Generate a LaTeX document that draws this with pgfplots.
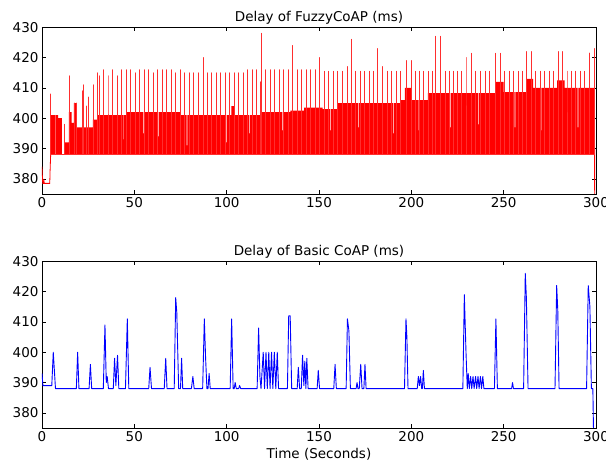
\documentclass[border=0pt]{standalone}
\usepackage{fontspec}
\setmainfont{DejaVu Sans}
\usepackage{pgfplots}
\pgfplotsset{compat=1.18}
\begin{document}
\begin{tikzpicture}
\useasboundingbox (0,0) rectangle (606pt,462pt);
\pgfplotsset{
  panel/.style={
    scale only axis, width=554pt, height=166.7pt,
    xmin=0, xmax=300, ymin=375, ymax=430,
    xtick={0,50,...,300}, ytick={380,390,...,430},
    minor tick num=0,
    tick align=inside, major tick length=4pt,
    /pgf/number format/assume math mode=true,
    tick label style={font=\fontsize{13.5}{16}\selectfont},
    title style={font=\fontsize{13.5}{16}\selectfont, at={(0.5,1)}, anchor=base, yshift=-0.5pt},
    axis line style={line width=0.8pt},
    every tick/.style={black, line width=0.6pt},
  }
}
\begin{axis}[panel, at={(42pt,434.7pt)}, anchor=north west,
  title={Delay of FuzzyCoAP (ms)}]
% dense band (upper edge of the filled red region), with its deeper gaps
\addplot[fill=red, draw=none] coordinates {
(4.7,388)(4.7,401)(7.4,401)(7.4,388)(7.7,388)(7.7,401)(8.7,401)(8.7,400)(10.8,400)(10.8,388)
(12.4,388)(12.4,392)(14.6,392)(14.6,402)(16.0,402)(16.0,398.5)(17.3,398.5)(17.3,405)(18.5,405)
(18.5,397)(27.6,397)(27.6,399.5)(29.8,399.5)(29.8,401)
(44.0,401)(44.0,393)(44.4,393)(44.4,401)
(46,401)(46,402)
(54.8,402)(54.8,395)(55.2,395)(55.2,402)
(63.0,402)(63.0,394)(63.4,394)(63.4,402)
(75,402)(75,401)
(78.3,401)(78.3,391)(78.7,391)(78.7,401)
(99.6,401)(99.6,392)(100.0,392)(100.0,401)
(102.5,401)(102.5,404)(104.5,404)(104.5,401)
(112.0,401)(112.0,395)(112.4,395)(112.4,401)
(118.5,401)(118.5,402)
(130.0,402)(130.0,396)(130.4,396)(130.4,402)
(134.5,402)(134.5,402.5)
(142,402.5)(142,403.5)(152,403.5)(152,403)
(156.0,403)(156.0,396)(156.4,396)(156.4,403)
(160,403)(160,405)
(171.0,405)(171.0,397)(171.4,397)(171.4,405)
(190.0,405)(190.0,395)(190.4,395)(190.4,405)
(194,405)(194,406)(196.5,406)
(196.5,410)(200.2,410)(200.2,406)
(204.0,406)(204.0,396)(204.4,396)(204.4,406)
(209,406)(209,408.3)
(221.0,408.3)(221.0,397)(221.4,397)(221.4,408.3)
(236.0,408.3)(236.0,398)(236.4,398)(236.4,408.3)
(245.6,408.3)(245.6,412)(250,412)
(250,408.6)
(256.0,408.6)(256.0,397)(256.4,397)(256.4,408.6)
(262.5,408.6)(262.5,413)(266,413)(266,410)
(270.0,410)(270.0,396)(270.4,396)(270.4,410)
(279,410)(279,412.5)(283,412.5)
(283,410)
(290.0,410)(290.0,397)(290.4,397)(290.4,410)
(299.2,410)(299.2,388)
};
% start and end of the series
\addplot[red, line width=0.8pt] coordinates {
(0,384)(0.2,381)(0.4,378.5)(0.8,378.5)(1.0,380)(1.2,378.5)(4.2,378.5)(4.4,383)(4.7,388)
};
\addplot[red, line width=0.8pt] coordinates {(299.2,410)(299.3,360)};
% spikes
\addplot[red!82!white, line width=0.9pt, line join=round] coordinates {
(4.8,388)(4.8,408)(4.8,388)(12.3,388)(12.3,398)(12.3,388)(14.6,388)(14.6,414)(14.6,388)
(17.4,388)(17.4,405)(17.4,388)(18.4,388)(18.4,405)(18.4,388)(21.7,388)(21.7,409)(21.7,388)
(22.6,388)(22.6,411)(22.6,388)(24.0,388)(24.0,404)(24.0,388)(25.2,388)(25.2,407)(25.2,388)
(27.6,388)(27.6,411)(27.6,388)(29.8,388)(29.8,415)(29.8,388)(31.1,388)(31.1,414)(31.1,388)
(33.3,388)(33.3,416)(33.3,388)(35.74,388)(35.74,414)(35.74,388)(38.18,388)(38.18,416)(38.18,388)
(40.62,388)(40.62,414)(40.62,388)(43.06,388)(43.06,416)(43.06,388)(45.5,388)(45.5,416)(45.5,388)
(47.94,388)(47.94,416)(47.94,388)(50.38,388)(50.38,415)(50.38,388)(52.82,388)(52.82,416)(52.82,388)
(55.26,388)(55.26,416)(55.26,388)(57.7,388)(57.7,416)(57.7,388)(60.14,388)(60.14,415)(60.14,388)
(62.58,388)(62.58,416)(62.58,388)(65.02,388)(65.02,416)(65.02,388)(67.46,388)(67.46,416)(67.46,388)
(69.9,388)(69.9,416)(69.9,388)(72.34,388)(72.34,415)(72.34,388)(74.78,388)(74.78,416)(74.78,388)
(77.22,388)(77.22,415)(77.22,388)(79.66,388)(79.66,415)(79.66,388)(82.1,388)(82.1,415)(82.1,388)
(84.54,388)(84.54,415)(84.54,388)(87.5,388)(87.5,420)(87.5,388)(89.42,388)(89.42,415)(89.42,388)
(91.86,388)(91.86,415)(91.86,388)(94.3,388)(94.3,415)(94.3,388)(96.74,388)(96.74,415)(96.74,388)
(99.18,388)(99.18,415)(99.18,388)(101.62,388)(101.62,415)(101.62,388)(104.06,388)(104.06,415)(104.06,388)
(106.5,388)(106.5,415)(106.5,388)(108.94,388)(108.94,415)(108.94,388)(111.38,388)(111.38,416)(111.38,388)
(113.82,388)(113.82,416)(113.82,388)(116.26,388)(116.26,416)(116.26,388)(118.3,388)(118.3,412)(118.3,388)
(118.8,388)(118.8,428)(118.8,388)(121.14,388)(121.14,416)(121.14,388)(123.58,388)(123.58,416)(123.58,388)
(126.02,388)(126.02,416)(126.02,388)(128.46,388)(128.46,416)(128.46,388)(130.9,388)(130.9,416)(130.9,388)
(133.34,388)(133.34,416)(133.34,388)(135.7,388)(135.7,424)(135.7,388)(138.22,388)(138.22,416)(138.22,388)
(140.66,388)(140.66,416)(140.66,388)(143.1,388)(143.1,416)(143.1,388)(145.54,388)(145.54,416)(145.54,388)
(147.98,388)(147.98,416)(147.98,388)(150.2,388)(150.2,420)(150.2,388)(152.86,388)(152.86,415.5)(152.86,388)
(155.3,388)(155.3,415.5)(155.3,388)(157.74,388)(157.74,415.5)(157.74,388)(160.18,388)(160.18,415.5)(160.18,388)
(162.62,388)(162.62,415.5)(162.62,388)(165.4,388)(165.4,417)(165.4,388)(167.5,388)(167.5,426)(167.5,388)
(169.94,388)(169.94,415.5)(169.94,388)(172.38,388)(172.38,415.5)(172.38,388)(174.82,388)(174.82,415.5)(174.82,388)
(177.26,388)(177.26,415.5)(177.26,388)(179.7,388)(179.7,415.5)(179.7,388)(181.9,388)(181.9,423)(181.9,388)
(184.3,388)(184.3,417)(184.3,388)(187.02,388)(187.02,415.5)(187.02,388)(189.46,388)(189.46,415.5)(189.46,388)
(191.9,388)(191.9,415.5)(191.9,388)(194.34,388)(194.34,415.5)(194.34,388)(197.1,388)(197.1,419)(197.1,388)
(199.8,388)(199.8,419)(199.8,388)(202.0,388)(202.0,415.5)(202.0,388)(204.4,388)(204.4,415.5)(204.4,388)
(206.8,388)(206.8,415.5)(206.8,388)(209.0,388)(209.0,415.5)(209.0,388)(211.2,388)(211.2,415.5)(211.2,388)
(213.3,388)(213.3,427)(213.3,388)(215.9,388)(215.9,427)(215.9,388)(218.3,388)(218.3,415.5)(218.3,388)
(220.6,388)(220.6,415.5)(220.6,388)(222.9,388)(222.9,415.5)(222.9,388)(225.0,388)(225.0,415.5)(225.0,388)
(227.3,388)(227.3,415.5)(227.3,388)(229.6,388)(229.6,420)(229.6,388)(232.3,388)(232.3,421.4)(232.3,388)
(234.8,388)(234.8,415.5)(234.8,388)(237.3,388)(237.3,415.5)(237.3,388)(239.9,388)(239.9,415.5)(239.9,388)
(242.4,388)(242.4,415.5)(242.4,388)(245.8,388)(245.8,421.4)(245.8,388)(248.0,388)(248.0,421.4)(248.0,388)
(250.5,388)(250.5,415.5)(250.5,388)(253.0,388)(253.0,415.5)(253.0,388)(255.4,388)(255.4,415.5)(255.4,388)
(257.8,388)(257.8,415.5)(257.8,388)(260.1,388)(260.1,415.5)(260.1,388)(262.4,388)(262.4,422)(262.4,388)
(264.9,388)(264.9,422)(264.9,388)(267.3,388)(267.3,415.5)(267.3,388)(269.8,388)(269.8,415.5)(269.8,388)
(272.2,388)(272.2,415.5)(272.2,388)(274.6,388)(274.6,415.5)(274.6,388)(277.0,388)(277.0,415.5)(277.0,388)
(279.5,388)(279.5,422)(279.5,388)(281.9,388)(281.9,422)(281.9,388)(284.3,388)(284.3,415.5)(284.3,388)
(286.7,388)(286.7,415.5)(286.7,388)(289.1,388)(289.1,415.5)(289.1,388)(291.5,388)(291.5,415.5)(291.5,388)
(293.9,388)(293.9,415.5)(293.9,388)(296.2,388)(296.2,421.5)(296.2,388)(298.9,388)(298.9,423)(298.9,388)
};
\end{axis}
\begin{axis}[panel, at={(42pt,200.7pt)}, anchor=north west,
  title={Delay of Basic CoAP (ms)},
  xlabel={Time (Seconds)},
  xlabel style={font=\fontsize{13.5}{16}\selectfont, at={(axis description cs:0.5,0)}, anchor=base, yshift=-30.6pt}]
\addplot[blue, line width=0.9pt, line join=round] coordinates {
(0,393)(0.5,389)(5.3,389)(6.1,400)(6.6,395)(7.3,388)
(18.6,388)(19.3,400)(20.0,388)
(25.5,388)(26.2,396)(26.9,388)
(33.2,388)(34.1,409)(34.8,390)(35.3,392)(36.0,388)
(38.6,388)(39.3,398)(40.0,389)(40.9,399)(41.6,388)
(45.2,388)(46.2,411)(47.0,388)
(57.8,388)(58.5,395)(59.3,388)
(66.2,388)(67.0,398)(67.7,388)
(71.6,388)(72.4,418)(73.0,413)(74.0,388)(75.0,388)(75.6,398)(76.2,388)
(80.9,388)(81.7,392)(82.4,388)
(87.0,388)(87.9,411)(88.6,398)(89.3,388)(89.9,388)(90.5,393)(91.1,388)
(101.9,388)(102.7,411)(103.5,388)(104.1,388)(104.6,390)(105.2,388)(106.5,388)(107.0,389)(107.6,388)
(116.5,388)(117.3,408)(118.0,392)(118.6,388)(119.8,400)(120.5,388)(121.3,400)(122.0,388)(122.8,400)
(123.5,388)(124.3,400)(125.0,388)(125.8,400)(126.6,388)(127.4,400)(128.1,388)
(132.9,388)(133.6,412)(134.4,412)(135.2,388)
(138.2,388)(138.8,395)(139.5,388)(140.4,388)(141.1,399)(141.8,389)(142.3,397)(142.9,388)(143.4,398)(144.1,388)
(149.0,388)(149.6,394)(150.3,388)
(158.0,388)(158.7,396)(159.4,388)
(164.7,388)(165.4,411)(166.2,407)(167.0,388)
(170.1,388)(170.6,390)(171.1,388)(171.8,388)(172.6,396)(173.3,388)(174.3,388)(174.9,396)(175.5,388)
(196.3,388)(197.1,411)(197.6,405)(198.2,388)
(203.2,388)(203.8,392)(204.4,389)(205.0,392)(205.6,388)(206.0,388)(206.5,394)(207.1,388)
(227.9,388)(228.7,419)(229.6,400)(230.3,388)(230.8,393)(231.4,388)(232.1,392)(232.7,388)(233.4,392)
(234.0,388)(234.8,392)(235.4,388)(236.1,392)(236.7,388)(237.4,392)(238.0,388)(238.7,392)(239.3,388)
(245.0,388)(245.8,411)(246.6,388)
(254.3,388)(254.8,390)(255.3,388)
(260.8,388)(261.7,426)(262.3,418)(263.2,388)
(277.8,388)(278.7,422)(279.3,414)(280.0,388)
(294.9,388)(295.8,422)(296.7,415)(297.5,388)(298.3,388)(299.0,360)
};
\end{axis}
\end{tikzpicture}
\end{document}
